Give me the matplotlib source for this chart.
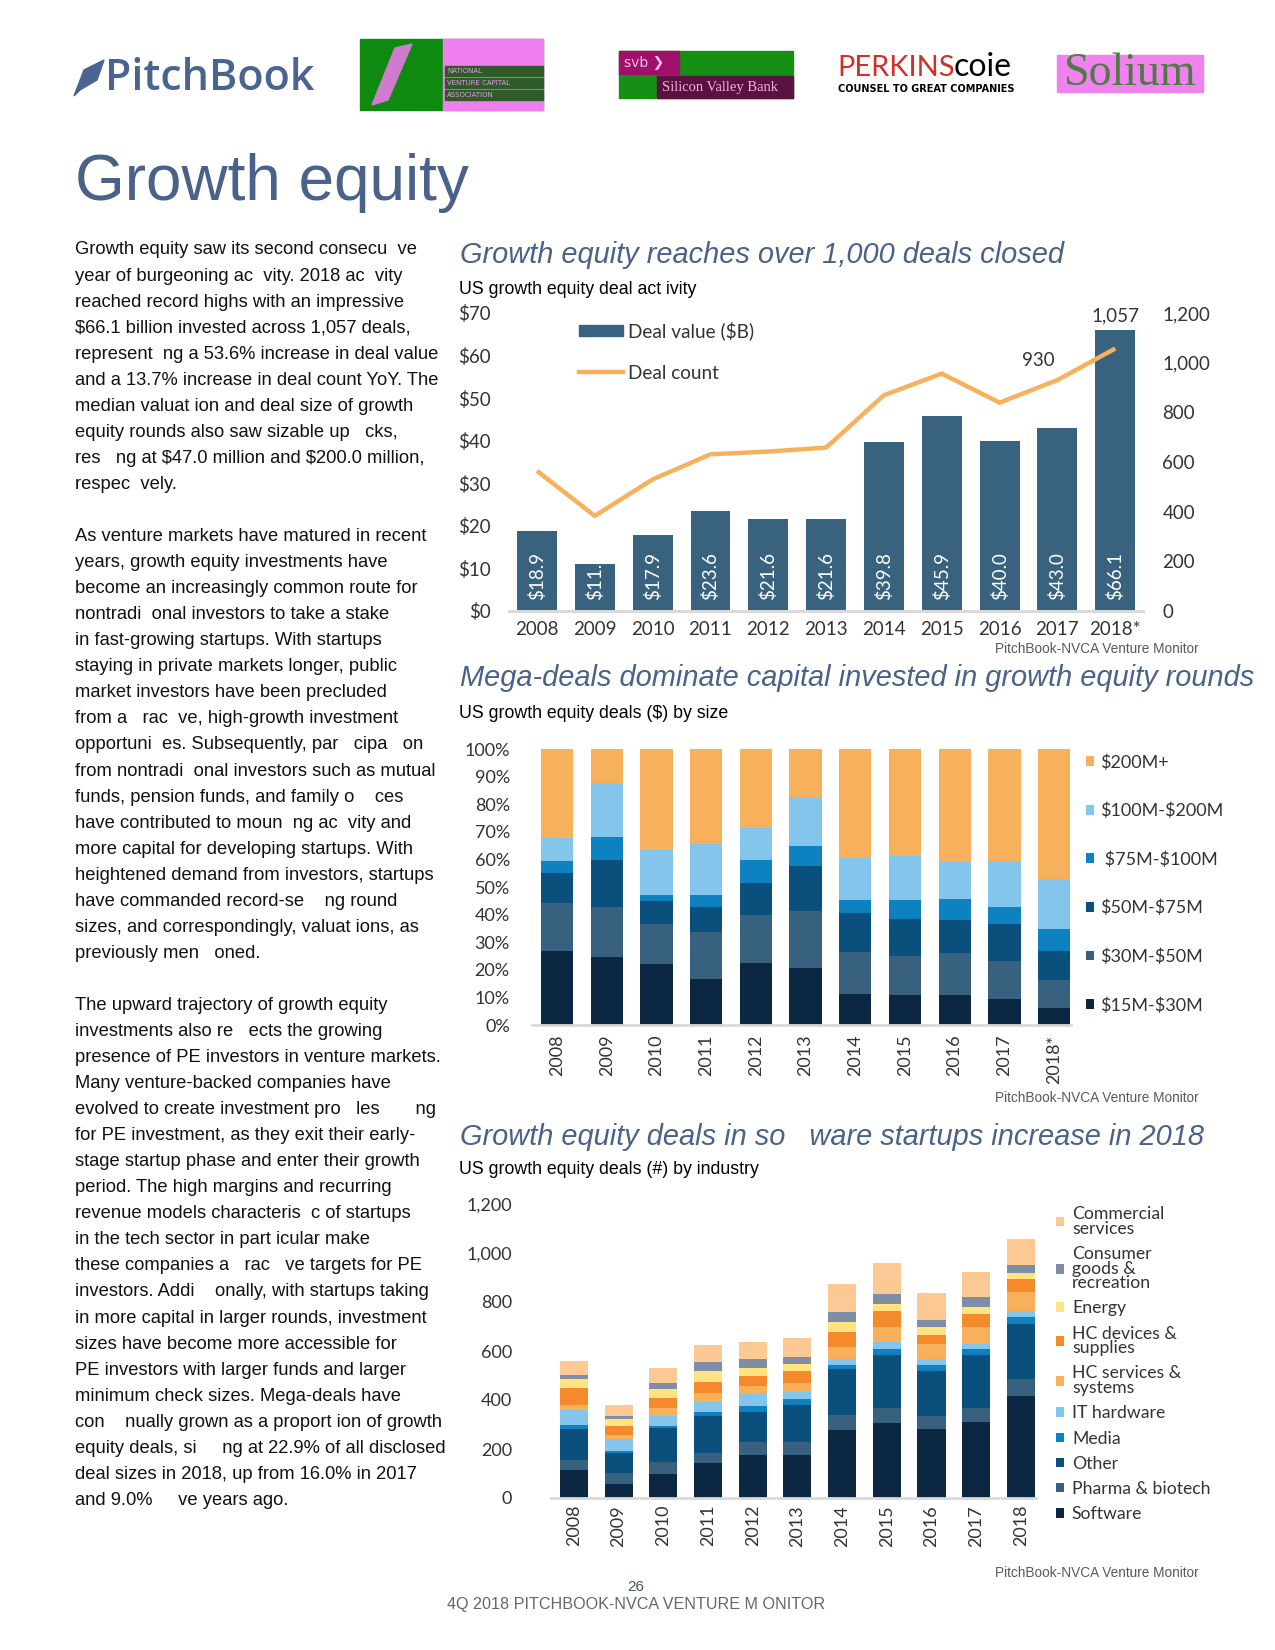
import matplotlib
matplotlib.use('Agg')
import matplotlib.pyplot as plt
from matplotlib.patches import Rectangle, Patch, Polygon
from matplotlib.lines import Line2D
from matplotlib.ticker import FuncFormatter

plt.rcParams['text.parse_math'] = False

W, H = 1275, 1650


def fx(x):
    return x / W


def fy(y):
    return 1 - y / H


# ---- data ----------------------------------------------------------------
years_1 = ['2008', '2009', '2010', '2011', '2012', '2013', '2014', '2015',
           '2016', '2017', '2018*']
years_3 = ['2008', '2009', '2010', '2011', '2012', '2013', '2014', '2015',
           '2016', '2017', '2018']

deal_value = [18.9, 11.0, 17.9, 23.6, 21.6, 21.6, 39.8, 45.9, 40.0, 43.0, 66.1]
value_labels = ['$18.9', '$11.', '$17.9', '$23.6', '$21.6', '$21.6', '$39.8',
                '$45.9', '$40.0', '$43.0', '$66.1']
deal_count = [564, 383, 530, 631, 642, 658, 869, 956, 839, 930, 1057]

# share of capital by deal size (%)
size_15_30 = [26.8, 24.8, 22.1, 16.7, 22.5, 20.7, 11.2, 10.9, 10.9, 9.4, 6.2]
size_30_50 = [17.3, 18.0, 14.5, 17.0, 17.4, 20.6, 15.2, 14.1, 15.2, 13.8, 10.1]
size_50_75 = [11.0, 17.0, 8.3, 9.1, 11.5, 16.3, 14.2, 13.4, 11.9, 13.4, 10.5]
size_75_100 = [4.3, 8.3, 2.2, 4.3, 8.4, 7.3, 4.7, 6.9, 7.7, 6.2, 8.0]
size_100_200 = [8.5, 19.7, 16.3, 18.5, 11.7, 17.8, 15.6, 15.9, 13.4, 16.6, 18.1]
size_200_up = [32.1, 12.2, 36.6, 34.4, 28.5, 17.3, 39.1, 38.8, 40.9, 40.6, 47.1]

# deal counts by industry
software = [113, 56, 97, 142, 175, 175, 277, 306, 282, 310, 417]
pharma = [41, 45, 49, 41, 53, 53, 62, 62, 53, 58, 70]
other = [128, 84, 141, 152, 123, 152, 189, 217, 184, 217, 225]
media = [16, 5, 8, 16, 25, 25, 16, 25, 25, 25, 25]
it_hardware = [61, 51, 40, 41, 53, 32, 25, 28, 25, 20, 28]
hc_services = [21, 16, 33, 37, 29, 33, 49, 62, 61, 70, 74]
hc_devices = [70, 37, 41, 45, 41, 49, 61, 65, 37, 53, 53]
energy = [37, 29, 37, 45, 33, 29, 41, 25, 29, 25, 25]
consumer = [17, 13, 24, 37, 37, 29, 41, 41, 32, 41, 33]
commercial = [56, 43, 62, 70, 69, 78, 111, 127, 107, 102, 107]

body_lines = [
    "Growth equity saw its second consecu  ve",
    "year of burgeoning ac  vity. 2018 ac  vity",
    "reached record highs with an impressive",
    "$66.1 billion invested across 1,057 deals,",
    "represent  ng a 53.6% increase in deal value",
    "and a 13.7% increase in deal count YoY. The",
    "median valuat ion and deal size of growth",
    "equity rounds also saw sizable up   cks,",
    "res   ng at $47.0 million and $200.0 million,",
    "respec  vely.",
    "",
    "As venture markets have matured in recent",
    "years, growth equity investments have",
    "become an increasingly common route for",
    "nontradi  onal investors to take a stake",
    "in fast-growing startups. With startups",
    "staying in private markets longer, public",
    "market investors have been precluded",
    "from a   rac  ve, high-growth investment",
    "opportuni  es. Subsequently, par   cipa   on",
    "from nontradi  onal investors such as mutual",
    "funds, pension funds, and family o    ces",
    "have contributed to moun  ng ac  vity and",
    "more capital for developing startups. With",
    "heightened demand from investors, startups",
    "have commanded record-se    ng round",
    "sizes, and correspondingly, valuat ions, as",
    "previously men   oned.",
    "",
    "The upward trajectory of growth equity",
    "investments also re   ects the growing",
    "presence of PE investors in venture markets.",
    "Many venture-backed companies have",
    "evolved to create investment pro   les       ng",
    "for PE investment, as they exit their early-",
    "stage startup phase and enter their growth",
    "period. The high margins and recurring",
    "revenue models characteris  c of startups",
    "in the tech sector in part icular make",
    "these companies a   rac   ve targets for PE",
    "investors. Addi    onally, with startups taking",
    "in more capital in larger rounds, investment",
    "sizes have become more accessible for",
    "PE investors with larger funds and larger",
    "minimum check sizes. Mega-deals have",
    "con    nually grown as a proport ion of growth",
    "equity deals, si     ng at 22.9% of all disclosed",
    "deal sizes in 2018, up from 16.0% in 2017",
    "and 9.0%     ve years ago.",
]

# ---- style ---------------------------------------------------------------
SLATE = '#4a6289'
BAR = '#38627e'
ORANGE = '#f7b15c'
NAVY = '#0b2742'
MID = '#37617f'
DBLUE = '#0b4f7c'
BLUE = '#0e82c0'
LBLUE = '#84c5ec'
TICK = '#333333'
AXLINE = '#d9d9d9'
CF = 'Lato'
SF = 'Liberation Sans'
TITLE_SIZE = 20.9

fig = plt.figure(figsize=(W / 100, H / 100), dpi=100)

# ---- header logos --------------------------------------------------------
leaf = Polygon([(fx(74), fy(96)), (fx(84), fy(70)), (fx(104), fy(60)),
                (fx(97), fy(80)), (fx(80), fy(90))], closed=True,
               transform=fig.transFigure, color='#4a6490')
fig.patches.append(leaf)
fig.text(fx(105), fy(78), 'PitchBook', fontsize=31, color='#4a6490',
         family='Open Sans', weight='semibold', va='center', ha='left')

# NVCA (garbled image)
fig.patches.append(Rectangle((fx(360), fy(110)), (543 - 360) / W, (110 - 39) / H,
                             transform=fig.transFigure, color='#0f8a10'))
fig.patches.append(Rectangle((fx(443), fy(110)), (543 - 443) / W, (110 - 39) / H,
                             transform=fig.transFigure, color='#ef7fef'))
fig.patches.append(Polygon([(fx(372), fy(105)), (fx(395), fy(48)), (fx(412), fy(44)),
                            (fx(388), fy(100))], closed=True,
                           transform=fig.transFigure, color='#d07ad0'))
for yy in (70, 82, 94):
    fig.patches.append(Rectangle((fx(445), fy(yy + 6)), (543 - 445) / W, 10 / H,
                                 transform=fig.transFigure, color='#2f5a2a'))
fig.text(fx(447), fy(71), 'NATIONAL', fontsize=5, color='#e0a0e0', va='center')
fig.text(fx(447), fy(83), 'VENTURE CAPITAL', fontsize=5, color='#e0a0e0', va='center')
fig.text(fx(447), fy(95), 'ASSOCIATION', fontsize=5, color='#e0a0e0', va='center')

# SVB
fig.patches.append(Rectangle((fx(619), fy(98)), (793 - 619) / W, (98 - 51) / H,
                             transform=fig.transFigure, color='#159015'))
fig.patches.append(Rectangle((fx(619), fy(74)), (679 - 619) / W, (74 - 51) / H,
                             transform=fig.transFigure, color='#a0106a'))
fig.patches.append(Rectangle((fx(657), fy(98)), (793 - 657) / W, (98 - 76) / H,
                             transform=fig.transFigure, color='#5a1240'))
fig.text(fx(624), fy(63), 'svb \u276f', fontsize=10, color='#f0c0e0', va='center')
fig.text(fx(662), fy(87), 'Silicon Valley Bank', fontsize=10.5, color='#f0b0e0',
         family='Liberation Serif', va='center')

# Perkins Coie
fig.text(fx(837), fy(68), 'PERKINS', fontsize=21, color='#d2302a', family='Lato',
         va='center')
fig.text(fx(954), fy(67), 'coie', fontsize=23, color='black', family='Lato',
         va='center')
fig.text(fx(838), fy(89), 'COUNSEL TO GREAT COMPANIES', fontsize=7,
         color='black', weight='bold', va='center')

# Solium
fig.patches.append(Rectangle((fx(1057), fy(92)), (1203 - 1057) / W, (92 - 55) / H,
                             transform=fig.transFigure, color='#ef82ef'))
fig.text(fx(1130), fy(74), 'Solium', fontsize=33, color='#4e7a46',
         family='Liberation Serif', ha='center', va='center')

# ---- page title and body text --------------------------------------------
fig.text(fx(75), fy(200), 'Growth equity', fontsize=46, color=SLATE,
         family=SF, va='baseline')

for i, line in enumerate(body_lines):
    if line:
        fig.text(fx(75), fy(248 + i * 26.05), line, fontsize=13.2, family=SF,
                 color='#111111', va='center_baseline')

# ---- chart 1 -------------------------------------------------------------
fig.text(fx(460), fy(255), 'Growth equity reaches over 1,000 deals closed',
         fontsize=TITLE_SIZE, style='italic', color=SLATE, family=SF, va='center')
fig.text(fx(459), fy(289), 'US growth equity deal act ivity', fontsize=12.8,
         family=SF, va='center')

ax1 = fig.add_axes([fx(509), fy(611), (1143 - 509) / W, (611 - 313) / H])
x1 = list(range(len(years_1)))
ax1.bar(x1, deal_value, width=0.69, color=BAR)
ax1.set_xlim(-0.484, 10.48)
ax1.set_ylim(0, 70)
ax1.set_yticks(range(0, 71, 10))
ax1.yaxis.set_major_formatter(FuncFormatter(lambda v, p: '$%d' % v))
ax1.set_xticks(x1)
ax1.set_xticklabels(years_1)
for i, lab in enumerate(value_labels):
    ax1.annotate(lab, (i, 0), xytext=(0, 8), textcoords='offset points',
                 rotation=90, ha='center', va='bottom', color='white',
                 fontsize=13.5, family=CF)

ax1b = ax1.twinx()
ax1b.plot(x1, deal_count, color=ORANGE, lw=3.2, solid_capstyle='butt')
ax1b.set_ylim(0, 1200)
ax1b.set_yticks(range(0, 1201, 200))
ax1b.yaxis.set_major_formatter(FuncFormatter(lambda v, p: '{:,.0f}'.format(v)))
ax1b.annotate('1,057', (10, deal_value[10] * 1200 / 70), xytext=(0, 4),
              textcoords='offset points', ha='center', va='bottom',
              fontsize=13.5, family=CF, color=TICK)
ax1b.annotate('930', (9, deal_count[9]), xytext=(-14, 14),
              textcoords='offset points', ha='center', va='center',
              fontsize=13.5, family=CF, color=TICK)

for a in (ax1, ax1b):
    for s in ('top', 'left', 'right'):
        a.spines[s].set_visible(False)
    a.spines['bottom'].set_color(AXLINE)
    a.spines['bottom'].set_linewidth(2)
    a.tick_params(length=0, labelsize=13.5, labelcolor=TICK)
    for t in a.get_xticklabels() + a.get_yticklabels():
        t.set_family(CF)
ax1.tick_params(axis='y', pad=13)
ax1.tick_params(axis='x', pad=7)
ax1b.tick_params(axis='y', pad=14)

ax1.legend([Patch(color=BAR), Line2D([], [], color=ORANGE, lw=3.2)],
           ['Deal value ($B)', 'Deal count'], loc='upper left',
           bbox_to_anchor=(fx(579), fy(321)), bbox_transform=fig.transFigure,
           frameon=False, borderpad=0, borderaxespad=0, handlelength=2.3,
           handleheight=0.5, handletextpad=0.25, labelspacing=1.3,
           prop={'family': CF, 'size': 13.7}, labelcolor=TICK)

fig.text(fx(1199), fy(649), 'PitchBook-NVCA Venture Monitor', fontsize=9.8,
         family=SF, color='#595959', ha='right', va='center')

# ---- chart 2 -------------------------------------------------------------
fig.text(fx(460), fy(678), 'Mega-deals dominate capital invested in growth equity rounds',
         fontsize=TITLE_SIZE, style='italic', color=SLATE, family=SF, va='center')
fig.text(fx(459), fy(713), 'US growth equity deals ($) by size', fontsize=12.8,
         family=SF, va='center')

ax2 = fig.add_axes([fx(532), fy(1025), (1071 - 532) / W, (1025 - 749) / H])
x2 = list(range(len(years_1)))
bands = [('$15M-$30M', size_15_30, NAVY),
         ('$30M-$50M', size_30_50, MID),
         ('$50M-$75M', size_50_75, DBLUE),
         (' $75M-$100M', size_75_100, BLUE),
         ('$100M-$200M', size_100_200, LBLUE),
         ('$200M+', size_200_up, ORANGE)]
bottom = [0.0] * len(x2)
for label, vals, col in bands:
    ax2.bar(x2, vals, bottom=bottom, width=0.65, color=col, label=label)
    bottom = [b + v for b, v in zip(bottom, vals)]
ax2.set_xlim(-0.503, 10.34)
ax2.set_ylim(0, 100)
ax2.set_yticks(range(0, 101, 10))
ax2.yaxis.set_major_formatter(FuncFormatter(lambda v, p: '%d%%' % v))
ax2.set_xticks(x2)
ax2.set_xticklabels(years_1, rotation=90)
for s in ('top', 'left', 'right'):
    ax2.spines[s].set_visible(False)
ax2.spines['bottom'].set_color(AXLINE)
ax2.spines['bottom'].set_linewidth(2)
ax2.tick_params(length=0, labelsize=13, labelcolor=TICK)
ax2.tick_params(axis='y', pad=16)
ax2.tick_params(axis='x', pad=7)
for t in ax2.get_xticklabels() + ax2.get_yticklabels():
    t.set_family(CF)
h2, l2 = ax2.get_legend_handles_labels()
ax2.legend(h2[::-1], l2[::-1], loc='upper left',
           bbox_to_anchor=(fx(1086), fy(754)), bbox_transform=fig.transFigure,
           frameon=False, borderpad=0, borderaxespad=0, handlelength=0.45,
           handleheight=0.45, handletextpad=0.35, labelspacing=1.78,
           prop={'family': CF, 'size': 13}, labelcolor=TICK)

fig.text(fx(1199), fy(1098), 'PitchBook-NVCA Venture Monitor', fontsize=9.8,
         family=SF, color='#595959', ha='right', va='center')

# ---- chart 3 -------------------------------------------------------------
fig.text(fx(460), fy(1137), 'Growth equity deals in so   ware startups increase in 2018',
         fontsize=TITLE_SIZE, style='italic', color=SLATE, family=SF, va='center')
fig.text(fx(459), fy(1170), 'US growth equity deals (#) by industry', fontsize=12.8,
         family=SF, va='center')

ax3 = fig.add_axes([fx(551), fy(1498), (1036 - 551) / W, (1498 - 1204) / H])
x3 = list(range(len(years_3)))
industries = [('Software', software, NAVY),
              ('Pharma & biotech', pharma, MID),
              ('Other', other, DBLUE),
              ('Media', media, BLUE),
              ('IT hardware', it_hardware, LBLUE),
              ('HC services &\nsystems', hc_services, '#f8b05a'),
              ('HC devices &\nsupplies', hc_devices, '#f58a2c'),
              ('Energy', energy, '#fde480'),
              ('Consumer\ngoods &\nrecreation', consumer, '#7f8ea4'),
              ('Commercial\nservices', commercial, '#fcc894')]
bottom = [0] * len(x3)
for label, vals, col in industries:
    ax3.bar(x3, vals, bottom=bottom, width=0.63, color=col, label=label)
    bottom = [b + v for b, v in zip(bottom, vals)]
ax3.set_xlim(-0.515, 10.34)
ax3.set_ylim(0, 1200)
ax3.set_yticks(range(0, 1201, 200))
ax3.yaxis.set_major_formatter(FuncFormatter(lambda v, p: '{:,.0f}'.format(v)))
ax3.set_xticks(x3)
ax3.set_xticklabels(years_3, rotation=90)
for s in ('top', 'left', 'right'):
    ax3.spines[s].set_visible(False)
ax3.spines['bottom'].set_color(AXLINE)
ax3.spines['bottom'].set_linewidth(2)
ax3.tick_params(length=0, labelsize=13, labelcolor=TICK)
ax3.tick_params(axis='y', pad=28)
ax3.tick_params(axis='x', pad=5)
for t in ax3.get_xticklabels() + ax3.get_yticklabels():
    t.set_family(CF)
h3, l3 = ax3.get_legend_handles_labels()
leg3 = ax3.legend(h3[::-1], l3[::-1], loc='upper left',
                  bbox_to_anchor=(fx(1056), fy(1206)), bbox_transform=fig.transFigure,
                  frameon=False, borderpad=0, borderaxespad=0, handlelength=0.45,
                  handleheight=0.45, handletextpad=0.45, labelspacing=0.52,
                  prop={'family': CF, 'size': 12.7}, labelcolor=TICK)
for t in leg3.get_texts():
    t.set_linespacing(0.9)

fig.text(fx(1199), fy(1573), 'PitchBook-NVCA Venture Monitor', fontsize=9.8,
         family=SF, color='#595959', ha='right', va='center')

# ---- footer --------------------------------------------------------------
fig.text(fx(636), fy(1587), '26', fontsize=11, family=SF, color='#44546a',
         ha='center', va='center')
fig.text(fx(636), fy(1604), '4Q 2018 PITCHBOOK-NVCA VENTURE M ONITOR', fontsize=11.6,
         family=SF, color='#666666', ha='center', va='center')

fig.savefig('out.png', dpi=100)
